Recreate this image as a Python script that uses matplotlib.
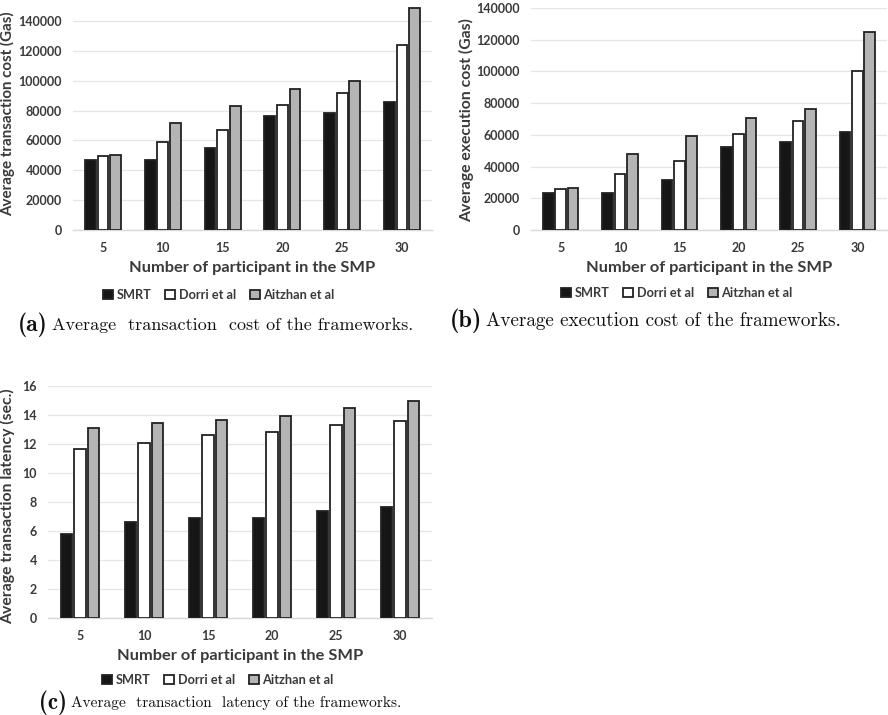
import matplotlib
matplotlib.use("Agg")
import matplotlib.pyplot as plt
import numpy as np

categories = ["5", "10", "15", "20", "25", "30"]
series_names = ["SMRT", "Dorri et al", "Aitzhan et al"]

tx_smrt = [46900, 47100, 55100, 76100, 78600, 85700]
tx_dorri = [49500, 59200, 67200, 83900, 91700, 123700]
tx_aitzhan = [50000, 71400, 83000, 94600, 100000, 148700]

ex_smrt = [23300, 23600, 31500, 52400, 55500, 62000]
ex_dorri = [26100, 35500, 43300, 60400, 68600, 100100]
ex_aitzhan = [26300, 47900, 59500, 70900, 76300, 124900]

lat_smrt = [5.75, 6.6, 6.88, 6.9, 7.34, 7.66]
lat_dorri = [11.65, 12.04, 12.63, 12.8, 13.28, 13.6]
lat_aitzhan = [13.1, 13.44, 13.65, 13.92, 14.45, 14.93]

xlabel = "Number of participant in the SMP"

W, H = 888, 715
fig = plt.figure(figsize=(W / 100, H / 100), dpi=100)

FONT = "Lato"
TXT = "#3a3a3a"
faces = ["#161616", "#ffffff", "#b4b4b4"]
EDGE = "#222222"


def add_ax(left, right, top, bottom):
    return fig.add_axes([left / W, 1 - bottom / H, (right - left) / W, (bottom - top) / H])


def draw(ax, data, ylim, yticks, ylabel, ysz):
    x = np.arange(len(categories))
    offs = [-0.21, 0.0, 0.21]
    handles = []
    for d, o, fc, name in zip(data, offs, faces, series_names):
        b = ax.bar(x + o, d, width=0.18, color=fc, edgecolor=EDGE, linewidth=1.3,
                   label=name, zorder=3)
        handles.append(b)
    ax.set_xlim(-0.5, len(categories) - 0.5)
    ax.set_ylim(*ylim)
    ax.set_yticks(yticks)
    ax.set_yticklabels([str(t) for t in yticks])
    ax.set_xticks(x)
    ax.set_xticklabels(categories)
    for lab in ax.get_xticklabels() + ax.get_yticklabels():
        lab.set_fontfamily(FONT)
        lab.set_fontweight("bold")
        lab.set_fontsize(9)
        lab.set_color(TXT)
    ax.tick_params(axis="both", length=0)
    ax.tick_params(axis="y", pad=8)
    ax.tick_params(axis="x", pad=9)
    for s in ["top", "right", "left"]:
        ax.spines[s].set_visible(False)
    ax.spines["bottom"].set_color("#d9d9d9")
    ax.spines["bottom"].set_linewidth(1.0)
    ax.grid(axis="y", color="#e6e6e6", linewidth=0.9, zorder=0)
    ax.set_axisbelow(True)
    ax.set_xlabel(xlabel, fontfamily=FONT, fontweight="bold", fontsize=11.8, color=TXT, labelpad=5)
    ax.set_ylabel(ylabel, fontfamily=FONT, fontweight="bold", fontsize=ysz, color=TXT)
    return handles


# Panel (a)
ax_a = add_ax(73, 432, 6, 230)
h = draw(ax_a, [tx_smrt, tx_dorri, tx_aitzhan], (0, 150000),
         list(range(0, 140001, 20000)), "Average transaction cost (Gas)", 10.9)
ax_a.yaxis.set_label_coords(15 / W, 1 - 114 / H, transform=fig.transFigure)

# Panel (b)
ax_b = add_ax(531, 887, 8, 230)
draw(ax_b, [ex_smrt, ex_dorri, ex_aitzhan], (0, 140000),
     list(range(0, 140001, 20000)), "Average execution cost (Gas)", 11.3)
ax_b.yaxis.set_label_coords(474 / W, 1 - 120 / H, transform=fig.transFigure)

# Panel (c)
ax_c = add_ax(48, 432, 386, 617.7)
draw(ax_c, [lat_smrt, lat_dorri, lat_aitzhan], (0, 16),
     list(range(0, 17, 2)), "Average transaction latency (sec.)", 11.3)
ax_c.yaxis.set_label_coords(15 / W, 1 - 506 / H, transform=fig.transFigure)

leg_kw = dict(ncol=3, frameon=False, handlelength=0.75, handleheight=0.75,
              handletextpad=0.3, columnspacing=1.1,
              prop={"family": FONT, "weight": "bold", "size": 9.2})
for cx, cy in [(219, 295), (677, 293), (218, 680)]:
    lg = fig.legend(h, series_names, loc="center", bbox_to_anchor=(cx / W, 1 - cy / H), **leg_kw)
    for t in lg.get_texts():
        t.set_color(TXT)

captions = [
    (18, 325, "(a)", 17, "Average  transaction  cost of the frameworks.", 13.0),
    (450, 321, "(b)", 17.5, "Average execution cost of the frameworks.", 13.8),
    (39, 703, "(c)", 16.5, "Average  transaction  latency of the frameworks.", 11.1),
]
for cx, cy, tag, tsz, txt, sz in captions:
    t1 = fig.text(cx / W, 1 - cy / H, tag, fontfamily="cmb10", fontsize=tsz,
                  va="center", ha="left", color="#111111")
    fig.canvas.draw()
    bb = t1.get_window_extent()
    fig.text((bb.x1 + 4) / W, 1 - cy / H, txt, fontfamily="cmr10", fontsize=sz,
             va="center", ha="left", color="#111111")

fig.savefig("out.png", dpi=100)
